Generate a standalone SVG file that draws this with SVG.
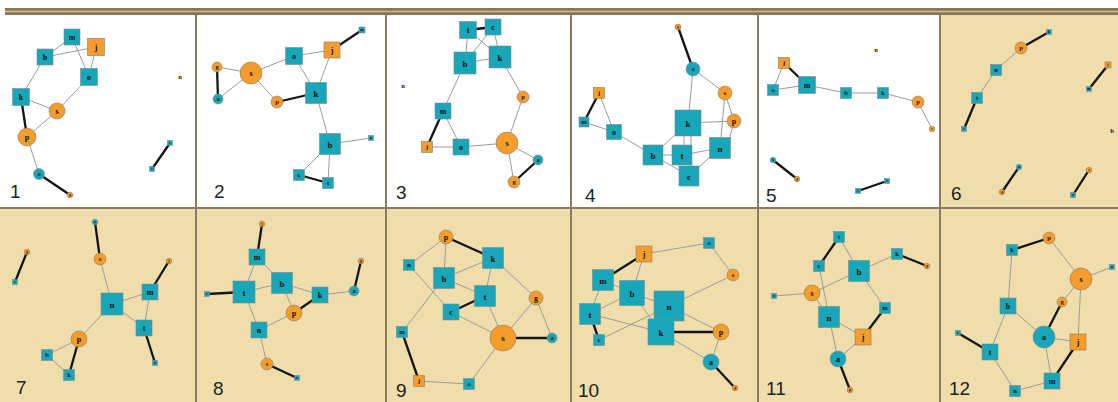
<svg xmlns="http://www.w3.org/2000/svg" width="1118" height="402" viewBox="0 0 1118 402">
<style>
.bgw{fill:#ffffff}.bgy{fill:#efdeab}
.fr{stroke:#8c7b5d;stroke-width:2;fill:none}
.t{fill:#19a6b8;stroke:#7d8a8c;stroke-width:0.6}
.o{fill:#f49d2c;stroke:#8a7a66;stroke-width:0.6}
.e{stroke:#9c9c9c;stroke-width:1;fill:none}
.h{stroke:#141414;stroke-width:2.3;fill:none}
text{font-family:"Liberation Serif",serif;font-weight:bold;fill:#111;text-anchor:middle}
.l8{font-size:9px}.l7{font-size:8px}.l6{font-size:6.5px}.l4{font-size:4px}
.num{font-family:"Liberation Sans","DejaVu Sans",sans-serif;font-weight:normal;font-size:19px;fill:#222;text-anchor:start}
</style>
<g id="background">
<rect class="bgw" x="0" y="0" width="1118" height="402"/>
<rect class="bgy" x="940" y="15" width="178" height="193"/>
<rect class="bgy" x="0" y="208" width="1118" height="194"/>
</g>
<g id="frame">
<rect x="5" y="8" width="1113" height="7" fill="#8a7552"/>
<line x1="5" y1="11.5" x2="1118" y2="11.5" stroke="#cdbf9f" stroke-width="1.5"/>
<line class="fr" x1="0" y1="208" x2="1118" y2="208"/>
<line class="fr" x1="196" y1="15" x2="196" y2="402"/>
<line class="fr" x1="386" y1="15" x2="386" y2="402"/>
<line class="fr" x1="571" y1="15" x2="571" y2="402"/>
<line class="fr" x1="758" y1="15" x2="758" y2="402"/>
<line class="fr" x1="940" y1="15" x2="940" y2="402"/>
</g>
<g id="connectors">
<line class="e" x1="72" y1="37" x2="45" y2="57"/>
<line class="e" x1="45" y1="57" x2="96" y2="47"/>
<line class="e" x1="72" y1="37" x2="89" y2="77"/>
<line class="e" x1="96" y1="47" x2="89" y2="77"/>
<line class="e" x1="89" y1="77" x2="57" y2="111"/>
<line class="e" x1="21" y1="97" x2="45" y2="57"/>
<line class="e" x1="21" y1="97" x2="57" y2="111"/>
<line class="h" x1="21" y1="97" x2="27" y2="137"/>
<line class="e" x1="57" y1="111" x2="27" y2="137"/>
<line class="e" x1="27" y1="137" x2="39" y2="174"/>
<line class="h" x1="39" y1="174" x2="70" y2="195"/>
<line class="h" x1="170" y1="143" x2="152" y2="169"/>
<line class="e" x1="217" y1="67" x2="251" y2="73"/>
<line class="h" x1="217" y1="67" x2="218" y2="99"/>
<line class="e" x1="218" y1="99" x2="251" y2="73"/>
<line class="e" x1="251" y1="73" x2="294" y2="56"/>
<line class="e" x1="251" y1="73" x2="277" y2="102"/>
<line class="e" x1="294" y1="56" x2="332" y2="50"/>
<line class="e" x1="294" y1="56" x2="316" y2="93"/>
<line class="e" x1="332" y1="50" x2="316" y2="93"/>
<line class="h" x1="332" y1="50" x2="362" y2="30"/>
<line class="h" x1="277" y1="102" x2="316" y2="93"/>
<line class="e" x1="316" y1="93" x2="330" y2="144"/>
<line class="e" x1="330" y1="144" x2="371" y2="138"/>
<line class="e" x1="330" y1="144" x2="299" y2="175"/>
<line class="e" x1="330" y1="144" x2="328" y2="183"/>
<line class="h" x1="299" y1="175" x2="328" y2="183"/>
<line class="h" x1="468" y1="30" x2="493" y2="27"/>
<line class="e" x1="468" y1="30" x2="465" y2="63"/>
<line class="e" x1="468" y1="30" x2="500" y2="57"/>
<line class="e" x1="493" y1="27" x2="465" y2="63"/>
<line class="e" x1="493" y1="27" x2="500" y2="57"/>
<line class="e" x1="465" y1="63" x2="500" y2="57"/>
<line class="e" x1="465" y1="63" x2="443" y2="111"/>
<line class="e" x1="500" y1="57" x2="523" y2="97"/>
<line class="e" x1="523" y1="97" x2="507" y2="143"/>
<line class="h" x1="443" y1="111" x2="427" y2="147"/>
<line class="e" x1="443" y1="111" x2="461" y2="147"/>
<line class="e" x1="427" y1="147" x2="461" y2="147"/>
<line class="e" x1="461" y1="147" x2="507" y2="143"/>
<line class="e" x1="507" y1="143" x2="538" y2="160"/>
<line class="e" x1="507" y1="143" x2="514" y2="182"/>
<line class="h" x1="538" y1="160" x2="514" y2="182"/>
<line class="h" x1="678" y1="27" x2="693" y2="69"/>
<line class="e" x1="693" y1="69" x2="725" y2="93"/>
<line class="e" x1="693" y1="69" x2="688" y2="123"/>
<line class="e" x1="725" y1="93" x2="734" y2="121"/>
<line class="e" x1="725" y1="93" x2="720" y2="148"/>
<line class="e" x1="734" y1="121" x2="727" y2="148"/>
<line class="e" x1="688" y1="123" x2="734" y2="121"/>
<line class="h" x1="599" y1="93" x2="584" y2="122"/>
<line class="e" x1="599" y1="93" x2="614" y2="132"/>
<line class="e" x1="584" y1="122" x2="614" y2="132"/>
<line class="e" x1="614" y1="132" x2="653" y2="155"/>
<line class="e" x1="653" y1="155" x2="688" y2="123"/>
<line class="e" x1="653" y1="155" x2="682" y2="155"/>
<line class="e" x1="653" y1="155" x2="689" y2="176"/>
<line class="e" x1="684" y1="123" x2="684" y2="155"/>
<line class="e" x1="691" y1="123" x2="691" y2="176"/>
<line class="e" x1="682" y1="155" x2="720" y2="148"/>
<line class="e" x1="689" y1="176" x2="720" y2="148"/>
<line class="e" x1="784" y1="63" x2="773" y2="90"/>
<line class="h" x1="784" y1="63" x2="807" y2="85"/>
<line class="e" x1="773" y1="90" x2="807" y2="85"/>
<line class="e" x1="807" y1="85" x2="846" y2="93"/>
<line class="e" x1="846" y1="93" x2="883" y2="93"/>
<line class="e" x1="883" y1="93" x2="918" y2="102"/>
<line class="e" x1="918" y1="102" x2="932" y2="129"/>
<line class="h" x1="773" y1="160" x2="797" y2="179"/>
<line class="h" x1="858" y1="191" x2="887" y2="181"/>
<line class="h" x1="1049" y1="32" x2="1021" y2="48"/>
<line class="e" x1="1021" y1="48" x2="996" y2="70"/>
<line class="e" x1="996" y1="70" x2="977" y2="98"/>
<line class="h" x1="977" y1="98" x2="964" y2="129"/>
<line class="h" x1="1108" y1="65" x2="1089" y2="89"/>
<line class="h" x1="1019" y1="167" x2="1002" y2="192"/>
<line class="h" x1="1089" y1="170" x2="1073" y2="195"/>
<line class="h" x1="27" y1="252" x2="15" y2="282"/>
<line class="h" x1="95" y1="222" x2="100" y2="259"/>
<line class="e" x1="100" y1="259" x2="112" y2="304"/>
<line class="h" x1="169" y1="261" x2="150" y2="292"/>
<line class="e" x1="150" y1="292" x2="112" y2="304"/>
<line class="e" x1="150" y1="292" x2="144" y2="328"/>
<line class="e" x1="112" y1="304" x2="144" y2="328"/>
<line class="e" x1="112" y1="304" x2="79" y2="339"/>
<line class="e" x1="79" y1="339" x2="47" y2="355"/>
<line class="h" x1="79" y1="339" x2="69" y2="375"/>
<line class="e" x1="47" y1="355" x2="69" y2="375"/>
<line class="h" x1="144" y1="328" x2="155" y2="363"/>
<line class="h" x1="262" y1="224" x2="257" y2="257"/>
<line class="e" x1="257" y1="257" x2="244" y2="292"/>
<line class="e" x1="257" y1="257" x2="282" y2="283"/>
<line class="h" x1="244" y1="292" x2="207" y2="294"/>
<line class="e" x1="244" y1="292" x2="282" y2="283"/>
<line class="e" x1="244" y1="292" x2="259" y2="330"/>
<line class="e" x1="282" y1="283" x2="320" y2="295"/>
<line class="e" x1="282" y1="283" x2="294" y2="313"/>
<line class="h" x1="320" y1="295" x2="294" y2="313"/>
<line class="e" x1="320" y1="295" x2="354" y2="291"/>
<line class="h" x1="354" y1="291" x2="361" y2="261"/>
<line class="e" x1="259" y1="330" x2="294" y2="313"/>
<line class="e" x1="259" y1="330" x2="267" y2="364"/>
<line class="h" x1="267" y1="364" x2="297" y2="378"/>
<line class="e" x1="446" y1="237" x2="409" y2="265"/>
<line class="e" x1="446" y1="237" x2="444" y2="278"/>
<line class="h" x1="446" y1="237" x2="493" y2="258"/>
<line class="e" x1="409" y1="265" x2="451" y2="312"/>
<line class="e" x1="493" y1="258" x2="444" y2="278"/>
<line class="e" x1="493" y1="258" x2="485" y2="296"/>
<line class="e" x1="493" y1="258" x2="536" y2="298"/>
<line class="e" x1="444" y1="278" x2="485" y2="296"/>
<line class="e" x1="444" y1="278" x2="402" y2="332"/>
<line class="h" x1="485" y1="296" x2="451" y2="312"/>
<line class="e" x1="485" y1="296" x2="503" y2="338"/>
<line class="e" x1="451" y1="312" x2="503" y2="338"/>
<line class="e" x1="536" y1="298" x2="503" y2="338"/>
<line class="e" x1="536" y1="298" x2="552" y2="338"/>
<line class="h" x1="503" y1="338" x2="552" y2="338"/>
<line class="e" x1="503" y1="338" x2="469" y2="384"/>
<line class="h" x1="402" y1="332" x2="419" y2="381"/>
<line class="e" x1="419" y1="381" x2="469" y2="384"/>
<line class="e" x1="644" y1="254" x2="709" y2="243"/>
<line class="e" x1="709" y1="243" x2="733" y2="275"/>
<line class="h" x1="644" y1="254" x2="603" y2="280"/>
<line class="e" x1="644" y1="254" x2="632" y2="293"/>
<line class="e" x1="603" y1="280" x2="632" y2="293"/>
<line class="e" x1="603" y1="280" x2="590" y2="314"/>
<line class="e" x1="632" y1="293" x2="590" y2="314"/>
<line class="e" x1="632" y1="293" x2="669" y2="306"/>
<line class="e" x1="632" y1="293" x2="661" y2="332"/>
<line class="e" x1="733" y1="275" x2="669" y2="306"/>
<line class="h" x1="590" y1="314" x2="599" y2="340"/>
<line class="e" x1="590" y1="314" x2="661" y2="332"/>
<line class="e" x1="599" y1="340" x2="669" y2="306"/>
<line class="e" x1="669" y1="306" x2="721" y2="332"/>
<line class="h" x1="661" y1="332" x2="721" y2="332"/>
<line class="e" x1="661" y1="332" x2="711" y2="362"/>
<line class="e" x1="721" y1="332" x2="711" y2="362"/>
<line class="h" x1="711" y1="362" x2="735" y2="388"/>
<line class="h" x1="839" y1="237" x2="819" y2="266"/>
<line class="e" x1="839" y1="237" x2="859" y2="271"/>
<line class="e" x1="819" y1="266" x2="829" y2="317"/>
<line class="e" x1="897" y1="254" x2="859" y2="271"/>
<line class="h" x1="897" y1="254" x2="927" y2="266"/>
<line class="e" x1="859" y1="271" x2="812" y2="293"/>
<line class="e" x1="859" y1="271" x2="885" y2="308"/>
<line class="e" x1="774" y1="296" x2="812" y2="293"/>
<line class="e" x1="812" y1="293" x2="829" y2="317"/>
<line class="e" x1="829" y1="317" x2="863" y2="337"/>
<line class="e" x1="829" y1="317" x2="838" y2="359"/>
<line class="h" x1="885" y1="308" x2="863" y2="337"/>
<line class="e" x1="863" y1="337" x2="838" y2="359"/>
<line class="h" x1="838" y1="359" x2="850" y2="390"/>
<line class="h" x1="1012" y1="250" x2="1049" y2="238"/>
<line class="e" x1="1049" y1="238" x2="1081" y2="279"/>
<line class="e" x1="1081" y1="279" x2="1112" y2="267"/>
<line class="e" x1="1081" y1="279" x2="1062" y2="302"/>
<line class="e" x1="1081" y1="279" x2="1078" y2="342"/>
<line class="e" x1="1012" y1="250" x2="1008" y2="306"/>
<line class="e" x1="1008" y1="306" x2="990" y2="352"/>
<line class="e" x1="1008" y1="306" x2="1044" y2="337"/>
<line class="h" x1="1062" y1="302" x2="1044" y2="337"/>
<line class="e" x1="1044" y1="337" x2="1078" y2="342"/>
<line class="e" x1="1044" y1="337" x2="1052" y2="381"/>
<line class="h" x1="1078" y1="342" x2="1052" y2="381"/>
<line class="h" x1="958" y1="333" x2="990" y2="352"/>
<line class="e" x1="990" y1="352" x2="1015" y2="391"/>
<line class="e" x1="1015" y1="391" x2="1052" y2="381"/>
</g>
<g id="p1-m"><rect class="t" x="64" y="29" width="16" height="16"/><text class="l7" x="72" y="40">m</text></g>
<g id="p1-j"><rect class="o" x="87.5" y="38.5" width="17" height="17"/><text class="l7" x="96" y="50">j</text></g>
<g id="p1-b"><rect class="t" x="37" y="49" width="16" height="16"/><text class="l7" x="45" y="60">b</text></g>
<g id="p1-o"><rect class="t" x="80.5" y="68.5" width="17" height="17"/><text class="l7" x="89" y="80">o</text></g>
<g id="p1-n"><text class="l6" x="180" y="79">n</text></g>
<g id="p1-k"><rect class="t" x="12.5" y="88.5" width="17" height="17"/><text class="l7" x="21" y="100">k</text></g>
<g id="p1-s"><circle class="o" cx="57" cy="111" r="8"/><text class="l7" x="57" y="114">s</text></g>
<g id="p1-p"><circle class="o" cx="27" cy="137" r="9"/><text class="l7" x="27" y="140">p</text></g>
<g id="p1-a"><circle class="t" cx="39" cy="174" r="5.5"/><text class="l6" x="39" y="176">a</text></g>
<g id="p1-g"><circle class="o" cx="70" cy="195" r="2.8" fill="#a8702f"/><text class="l4" x="70" y="196.3">g</text></g>
<g id="p1-c"><rect class="t" x="167.5" y="140.5" width="5" height="5"/><text class="l4" x="170" y="144.3">c</text></g>
<g id="p1-t"><rect class="t" x="149.5" y="166.5" width="5" height="5"/><text class="l4" x="152" y="170.3">t</text></g>
<g id="p2-o"><rect class="t" x="285.5" y="47.5" width="17" height="17"/><text class="l7" x="294" y="59">o</text></g>
<g id="p2-j"><rect class="o" x="324" y="42" width="16" height="16"/><text class="l7" x="332" y="53">j</text></g>
<g id="p2-m"><rect class="t" x="359" y="27" width="6" height="6"/><text class="l4" x="362" y="31.3">m</text></g>
<g id="p2-g"><circle class="o" cx="217" cy="67" r="5"/><text class="l6" x="217" y="69">g</text></g>
<g id="p2-s"><circle class="o" cx="251" cy="73" r="11"/><text class="l7" x="251" y="76">s</text></g>
<g id="p2-a"><circle class="t" cx="218" cy="99" r="5"/><text class="l6" x="218" y="101">a</text></g>
<g id="p2-p"><circle class="o" cx="277" cy="102" r="6"/><text class="l6" x="277" y="104">p</text></g>
<g id="p2-k"><rect class="t" x="305.5" y="82.5" width="21" height="21"/><text class="l8" x="316" y="96.5">k</text></g>
<g id="p2-b"><rect class="t" x="319.5" y="133.5" width="21" height="21"/><text class="l8" x="330" y="147.5">b</text></g>
<g id="p2-n"><rect class="t" x="368.5" y="135.5" width="5" height="5"/><text class="l4" x="371" y="139.3">n</text></g>
<g id="p2-c"><rect class="t" x="293.5" y="169.5" width="11" height="11"/><text class="l6" x="299" y="177">c</text></g>
<g id="p2-t"><rect class="t" x="322.5" y="177.5" width="11" height="11"/><text class="l6" x="328" y="185">t</text></g>
<g id="p3-t"><rect class="t" x="459.5" y="21.5" width="17" height="17"/><text class="l7" x="468" y="33">t</text></g>
<g id="p3-c"><rect class="t" x="485" y="19" width="16" height="16"/><text class="l7" x="493" y="30">c</text></g>
<g id="p3-b"><rect class="t" x="454" y="52" width="22" height="22"/><text class="l8" x="465" y="66.5">b</text></g>
<g id="p3-k"><rect class="t" x="489" y="46" width="22" height="22"/><text class="l8" x="500" y="60.5">k</text></g>
<g id="p3-n"><text class="l6" x="403" y="88">n</text></g>
<g id="p3-p"><circle class="o" cx="523" cy="97" r="6"/><text class="l6" x="523" y="99">p</text></g>
<g id="p3-m"><rect class="t" x="435" y="103" width="16" height="16"/><text class="l7" x="443" y="114">m</text></g>
<g id="p3-j"><rect class="o" x="421.5" y="141.5" width="11" height="11"/><text class="l6" x="427" y="149">j</text></g>
<g id="p3-o"><rect class="t" x="453" y="139" width="16" height="16"/><text class="l7" x="461" y="150">o</text></g>
<g id="p3-s"><circle class="o" cx="507" cy="143" r="11"/><text class="l7" x="507" y="146">s</text></g>
<g id="p3-a"><circle class="t" cx="538" cy="160" r="5"/><text class="l6" x="538" y="162">a</text></g>
<g id="p3-g"><circle class="o" cx="514" cy="182" r="6"/><text class="l6" x="514" y="184">g</text></g>
<g id="p4-g"><circle class="o" cx="678" cy="27" r="3" fill="#a8702f"/><text class="l4" x="678" y="28.3">g</text></g>
<g id="p4-a"><circle class="t" cx="693" cy="69" r="7"/><text class="l6" x="693" y="71">a</text></g>
<g id="p4-s"><circle class="o" cx="725" cy="93" r="7"/><text class="l6" x="725" y="95">s</text></g>
<g id="p4-j"><rect class="o" x="593.5" y="87.5" width="11" height="11"/><text class="l6" x="599" y="95">j</text></g>
<g id="p4-m"><rect class="t" x="579" y="117" width="10" height="10"/><text class="l6" x="584" y="124">m</text></g>
<g id="p4-o"><rect class="t" x="606.5" y="124.5" width="15" height="15"/><text class="l7" x="614" y="135">o</text></g>
<g id="p4-k"><rect class="t" x="675" y="110" width="26" height="26"/><text class="l8" x="688" y="126.5">k</text></g>
<g id="p4-p"><circle class="o" cx="734" cy="121" r="7"/><text class="l7" x="734" y="124">p</text></g>
<g id="p4-n"><rect class="t" x="709.5" y="137.5" width="21" height="21"/><text class="l8" x="720" y="151.5">n</text></g>
<g id="p4-b"><rect class="t" x="643" y="145" width="20" height="20"/><text class="l8" x="653" y="158.5">b</text></g>
<g id="p4-t"><rect class="t" x="672" y="145" width="20" height="20"/><text class="l8" x="682" y="158.5">t</text></g>
<g id="p4-c"><rect class="t" x="679" y="166" width="20" height="20"/><text class="l8" x="689" y="179.5">c</text></g>
<g id="p5-n"><text class="l6" x="876" y="52">n</text></g>
<g id="p5-j"><rect class="o" x="778.5" y="57.5" width="11" height="11"/><text class="l6" x="784" y="65">j</text></g>
<g id="p5-o"><rect class="t" x="767.5" y="84.5" width="11" height="11"/><text class="l6" x="773" y="92">o</text></g>
<g id="p5-m"><rect class="t" x="798.5" y="76.5" width="17" height="17"/><text class="l7" x="807" y="88">m</text></g>
<g id="p5-b"><rect class="t" x="840.5" y="87.5" width="11" height="11"/><text class="l6" x="846" y="95">b</text></g>
<g id="p5-k"><rect class="t" x="877.5" y="87.5" width="11" height="11"/><text class="l6" x="883" y="95">k</text></g>
<g id="p5-p"><circle class="o" cx="918" cy="102" r="6"/><text class="l6" x="918" y="104">p</text></g>
<g id="p5-s"><circle class="o" cx="932" cy="129" r="2.8" fill="#a8702f"/><text class="l4" x="932" y="130.3">s</text></g>
<g id="p5-a"><circle class="t" cx="773" cy="160" r="2.8"/><text class="l4" x="773" y="161.3">a</text></g>
<g id="p5-g"><circle class="o" cx="797" cy="179" r="2.8" fill="#a8702f"/><text class="l4" x="797" y="180.3">g</text></g>
<g id="p5-t"><rect class="t" x="855.5" y="188.5" width="5" height="5"/><text class="l4" x="858" y="192.3">t</text></g>
<g id="p5-c"><rect class="t" x="884.5" y="178.5" width="5" height="5"/><text class="l4" x="887" y="182.3">c</text></g>
<g id="p6-k"><rect class="t" x="1046.5" y="29.5" width="5" height="5"/><text class="l4" x="1049" y="33.3">k</text></g>
<g id="p6-p"><circle class="o" cx="1021" cy="48" r="6"/><text class="l6" x="1021" y="50">p</text></g>
<g id="p6-n"><rect class="t" x="990.5" y="64.5" width="11" height="11"/><text class="l6" x="996" y="72">n</text></g>
<g id="p6-t"><rect class="t" x="971.5" y="92.5" width="11" height="11"/><text class="l6" x="977" y="100">t</text></g>
<g id="p6-c"><rect class="t" x="961.5" y="126.5" width="5" height="5"/><text class="l4" x="964" y="130.3">c</text></g>
<g id="p6-j"><rect class="o" x="1105" y="62" width="6" height="6"/><text class="l4" x="1108" y="66.3">j</text></g>
<g id="p6-m"><rect class="t" x="1086.5" y="86.5" width="5" height="5"/><text class="l4" x="1089" y="90.3">m</text></g>
<g id="p6-b"><text class="l6" x="1112" y="133">b</text></g>
<g id="p6-a"><circle class="t" cx="1019" cy="167" r="2.8"/><text class="l4" x="1019" y="168.3">a</text></g>
<g id="p6-g"><circle class="o" cx="1002" cy="192" r="2.8" fill="#a8702f"/><text class="l4" x="1002" y="193.3">g</text></g>
<g id="p6-s"><circle class="o" cx="1089" cy="170" r="2.8" fill="#a8702f"/><text class="l4" x="1089" y="171.3">s</text></g>
<g id="p6-o"><rect class="t" x="1070.5" y="192.5" width="5" height="5"/><text class="l4" x="1073" y="196.3">o</text></g>
<g id="p7-g"><circle class="o" cx="27" cy="252" r="2.8" fill="#a8702f"/><text class="l4" x="27" y="253.3">g</text></g>
<g id="p7-c"><rect class="t" x="12.5" y="279.5" width="5" height="5"/><text class="l4" x="15" y="283.3">c</text></g>
<g id="p7-a"><circle class="t" cx="95" cy="222" r="2.8"/><text class="l4" x="95" y="223.3">a</text></g>
<g id="p7-s"><circle class="o" cx="100" cy="259" r="6"/><text class="l6" x="100" y="261">s</text></g>
<g id="p7-j"><circle class="o" cx="169" cy="261" r="2.8" fill="#a8702f"/><text class="l4" x="169" y="262.3">j</text></g>
<g id="p7-m"><rect class="t" x="142" y="284" width="16" height="16"/><text class="l7" x="150" y="295">m</text></g>
<g id="p7-n"><rect class="t" x="101" y="293" width="22" height="22"/><text class="l8" x="112" y="307.5">n</text></g>
<g id="p7-t"><rect class="t" x="136" y="320" width="16" height="16"/><text class="l7" x="144" y="331">t</text></g>
<g id="p7-p"><circle class="o" cx="79" cy="339" r="8"/><text class="l7" x="79" y="342">p</text></g>
<g id="p7-b"><rect class="t" x="41.5" y="349.5" width="11" height="11"/><text class="l6" x="47" y="357">b</text></g>
<g id="p7-k"><rect class="t" x="63.5" y="369.5" width="11" height="11"/><text class="l6" x="69" y="377">k</text></g>
<g id="p7-o"><rect class="t" x="152.5" y="360.5" width="5" height="5"/><text class="l4" x="155" y="364.3">o</text></g>
<g id="p8-j"><circle class="o" cx="262" cy="224" r="2.8" fill="#a8702f"/><text class="l4" x="262" y="225.3">j</text></g>
<g id="p8-m"><rect class="t" x="249" y="249" width="16" height="16"/><text class="l7" x="257" y="260">m</text></g>
<g id="p8-g"><circle class="o" cx="361" cy="261" r="2.8" fill="#a8702f"/><text class="l4" x="361" y="262.3">g</text></g>
<g id="p8-b"><rect class="t" x="271.5" y="272.5" width="21" height="21"/><text class="l8" x="282" y="286.5">b</text></g>
<g id="p8-t"><rect class="t" x="233" y="281" width="22" height="22"/><text class="l8" x="244" y="295.5">t</text></g>
<g id="p8-c"><rect class="t" x="204.5" y="291.5" width="5" height="5"/><text class="l4" x="207" y="295.3">c</text></g>
<g id="p8-k"><rect class="t" x="312" y="287" width="16" height="16"/><text class="l7" x="320" y="298">k</text></g>
<g id="p8-a"><circle class="t" cx="354" cy="291" r="5"/><text class="l6" x="354" y="293">a</text></g>
<g id="p8-p"><circle class="o" cx="294" cy="313" r="8"/><text class="l7" x="294" y="316">p</text></g>
<g id="p8-n"><rect class="t" x="251" y="322" width="16" height="16"/><text class="l7" x="259" y="333">n</text></g>
<g id="p8-s"><circle class="o" cx="267" cy="364" r="6"/><text class="l6" x="267" y="366">s</text></g>
<g id="p8-o"><rect class="t" x="294.5" y="375.5" width="5" height="5"/><text class="l4" x="297" y="379.3">o</text></g>
<g id="p9-p"><circle class="o" cx="446" cy="237" r="7"/><text class="l7" x="446" y="240">p</text></g>
<g id="p9-n"><rect class="t" x="403.5" y="259.5" width="11" height="11"/><text class="l6" x="409" y="267">n</text></g>
<g id="p9-k"><rect class="t" x="482.5" y="247.5" width="21" height="21"/><text class="l8" x="493" y="261.5">k</text></g>
<g id="p9-b"><rect class="t" x="433.5" y="267.5" width="21" height="21"/><text class="l8" x="444" y="281.5">b</text></g>
<g id="p9-t"><rect class="t" x="474.5" y="285.5" width="21" height="21"/><text class="l8" x="485" y="299.5">t</text></g>
<g id="p9-g"><circle class="o" cx="536" cy="298" r="7"/><text class="l7" x="536" y="301">g</text></g>
<g id="p9-c"><rect class="t" x="443" y="304" width="16" height="16"/><text class="l7" x="451" y="315">c</text></g>
<g id="p9-m"><rect class="t" x="396.5" y="326.5" width="11" height="11"/><text class="l6" x="402" y="334">m</text></g>
<g id="p9-s"><circle class="o" cx="503" cy="338" r="13"/><text class="l8" x="503" y="341">s</text></g>
<g id="p9-a"><circle class="t" cx="552" cy="338" r="5"/><text class="l6" x="552" y="340">a</text></g>
<g id="p9-j"><rect class="o" x="413.5" y="375.5" width="11" height="11"/><text class="l6" x="419" y="383">j</text></g>
<g id="p9-o"><rect class="t" x="463.5" y="378.5" width="11" height="11"/><text class="l6" x="469" y="386">o</text></g>
<g id="p10-o"><rect class="t" x="703.5" y="237.5" width="11" height="11"/><text class="l6" x="709" y="245">o</text></g>
<g id="p10-j"><rect class="o" x="636" y="246" width="16" height="16"/><text class="l7" x="644" y="257">j</text></g>
<g id="p10-s"><circle class="o" cx="733" cy="275" r="6"/><text class="l6" x="733" y="277">s</text></g>
<g id="p10-m"><rect class="t" x="592.5" y="269.5" width="21" height="21"/><text class="l8" x="603" y="283.5">m</text></g>
<g id="p10-b"><rect class="t" x="619.5" y="280.5" width="25" height="25"/><text class="l8" x="632" y="296.5">b</text></g>
<g id="p10-n"><rect class="t" x="654" y="291" width="30" height="30"/><text class="l8" x="669" y="309.5">n</text></g>
<g id="p10-t"><rect class="t" x="579.5" y="303.5" width="21" height="21"/><text class="l8" x="590" y="317.5">t</text></g>
<g id="p10-k"><rect class="t" x="648" y="319" width="26" height="26"/><text class="l8" x="661" y="335.5">k</text></g>
<g id="p10-p"><circle class="o" cx="721" cy="332" r="8"/><text class="l7" x="721" y="335">p</text></g>
<g id="p10-c"><rect class="t" x="593.5" y="334.5" width="11" height="11"/><text class="l6" x="599" y="342">c</text></g>
<g id="p10-a"><circle class="t" cx="711" cy="362" r="8"/><text class="l7" x="711" y="365">a</text></g>
<g id="p10-g"><circle class="o" cx="735" cy="388" r="2.8" fill="#9a6a3a"/><text class="l4" x="735" y="389.3">g</text></g>
<g id="p11-t"><rect class="t" x="833.5" y="231.5" width="11" height="11"/><text class="l6" x="839" y="239">t</text></g>
<g id="p11-k"><rect class="t" x="891.5" y="248.5" width="11" height="11"/><text class="l6" x="897" y="256">k</text></g>
<g id="p11-c"><rect class="t" x="813.5" y="260.5" width="11" height="11"/><text class="l6" x="819" y="268">c</text></g>
<g id="p11-b"><rect class="t" x="848.5" y="260.5" width="21" height="21"/><text class="l8" x="859" y="274.5">b</text></g>
<g id="p11-g"><circle class="o" cx="927" cy="266" r="2.8" fill="#9a6a3a"/><text class="l4" x="927" y="267.3">g</text></g>
<g id="p11-s"><circle class="o" cx="812" cy="293" r="8"/><text class="l7" x="812" y="296">s</text></g>
<g id="p11-o"><rect class="t" x="771.5" y="293.5" width="5" height="5"/><text class="l4" x="774" y="297.3">o</text></g>
<g id="p11-m"><rect class="t" x="879.5" y="302.5" width="11" height="11"/><text class="l6" x="885" y="310">m</text></g>
<g id="p11-n"><rect class="t" x="818.5" y="306.5" width="21" height="21"/><text class="l8" x="829" y="320.5">n</text></g>
<g id="p11-j"><rect class="o" x="855" y="329" width="16" height="16"/><text class="l7" x="863" y="340">j</text></g>
<g id="p11-a"><circle class="t" cx="838" cy="359" r="8"/><text class="l7" x="838" y="362">a</text></g>
<g id="p11-p"><circle class="o" cx="850" cy="390" r="2.8" fill="#9a6a3a"/><text class="l4" x="850" y="391.3">p</text></g>
<g id="p12-p"><circle class="o" cx="1049" cy="238" r="6"/><text class="l6" x="1049" y="240">p</text></g>
<g id="p12-k"><rect class="t" x="1006.5" y="244.5" width="11" height="11"/><text class="l6" x="1012" y="252">k</text></g>
<g id="p12-o"><rect class="t" x="1109.5" y="264.5" width="5" height="5"/><text class="l4" x="1112" y="268.3">o</text></g>
<g id="p12-s"><circle class="o" cx="1081" cy="279" r="11"/><text class="l7" x="1081" y="282">s</text></g>
<g id="p12-g"><circle class="o" cx="1062" cy="302" r="5"/><text class="l6" x="1062" y="304">g</text></g>
<g id="p12-b"><rect class="t" x="1000" y="298" width="16" height="16"/><text class="l7" x="1008" y="309">b</text></g>
<g id="p12-a"><circle class="t" cx="1044" cy="337" r="11"/><text class="l7" x="1044" y="340">a</text></g>
<g id="p12-j"><rect class="o" x="1070" y="334" width="16" height="16"/><text class="l7" x="1078" y="345">j</text></g>
<g id="p12-c"><rect class="t" x="955.5" y="330.5" width="5" height="5"/><text class="l4" x="958" y="334.3">c</text></g>
<g id="p12-t"><rect class="t" x="982" y="344" width="16" height="16"/><text class="l7" x="990" y="355">t</text></g>
<g id="p12-m"><rect class="t" x="1044" y="373" width="16" height="16"/><text class="l7" x="1052" y="384">m</text></g>
<g id="p12-n"><rect class="t" x="1009.5" y="385.5" width="11" height="11"/><text class="l6" x="1015" y="393">n</text></g>
<g id="numbers">
<text class="num" x="10" y="198">1</text>
<text class="num" x="214" y="198">2</text>
<text class="num" x="396" y="199">3</text>
<text class="num" x="585" y="202">4</text>
<text class="num" x="766" y="202">5</text>
<text class="num" x="951" y="200">6</text>
<text class="num" x="16" y="394">7</text>
<text class="num" x="213" y="395">8</text>
<text class="num" x="396" y="397">9</text>
<text class="num" x="578" y="397">10</text>
<text class="num" x="766" y="395">11</text>
<text class="num" x="949" y="395">12</text>
</g>
</svg>
